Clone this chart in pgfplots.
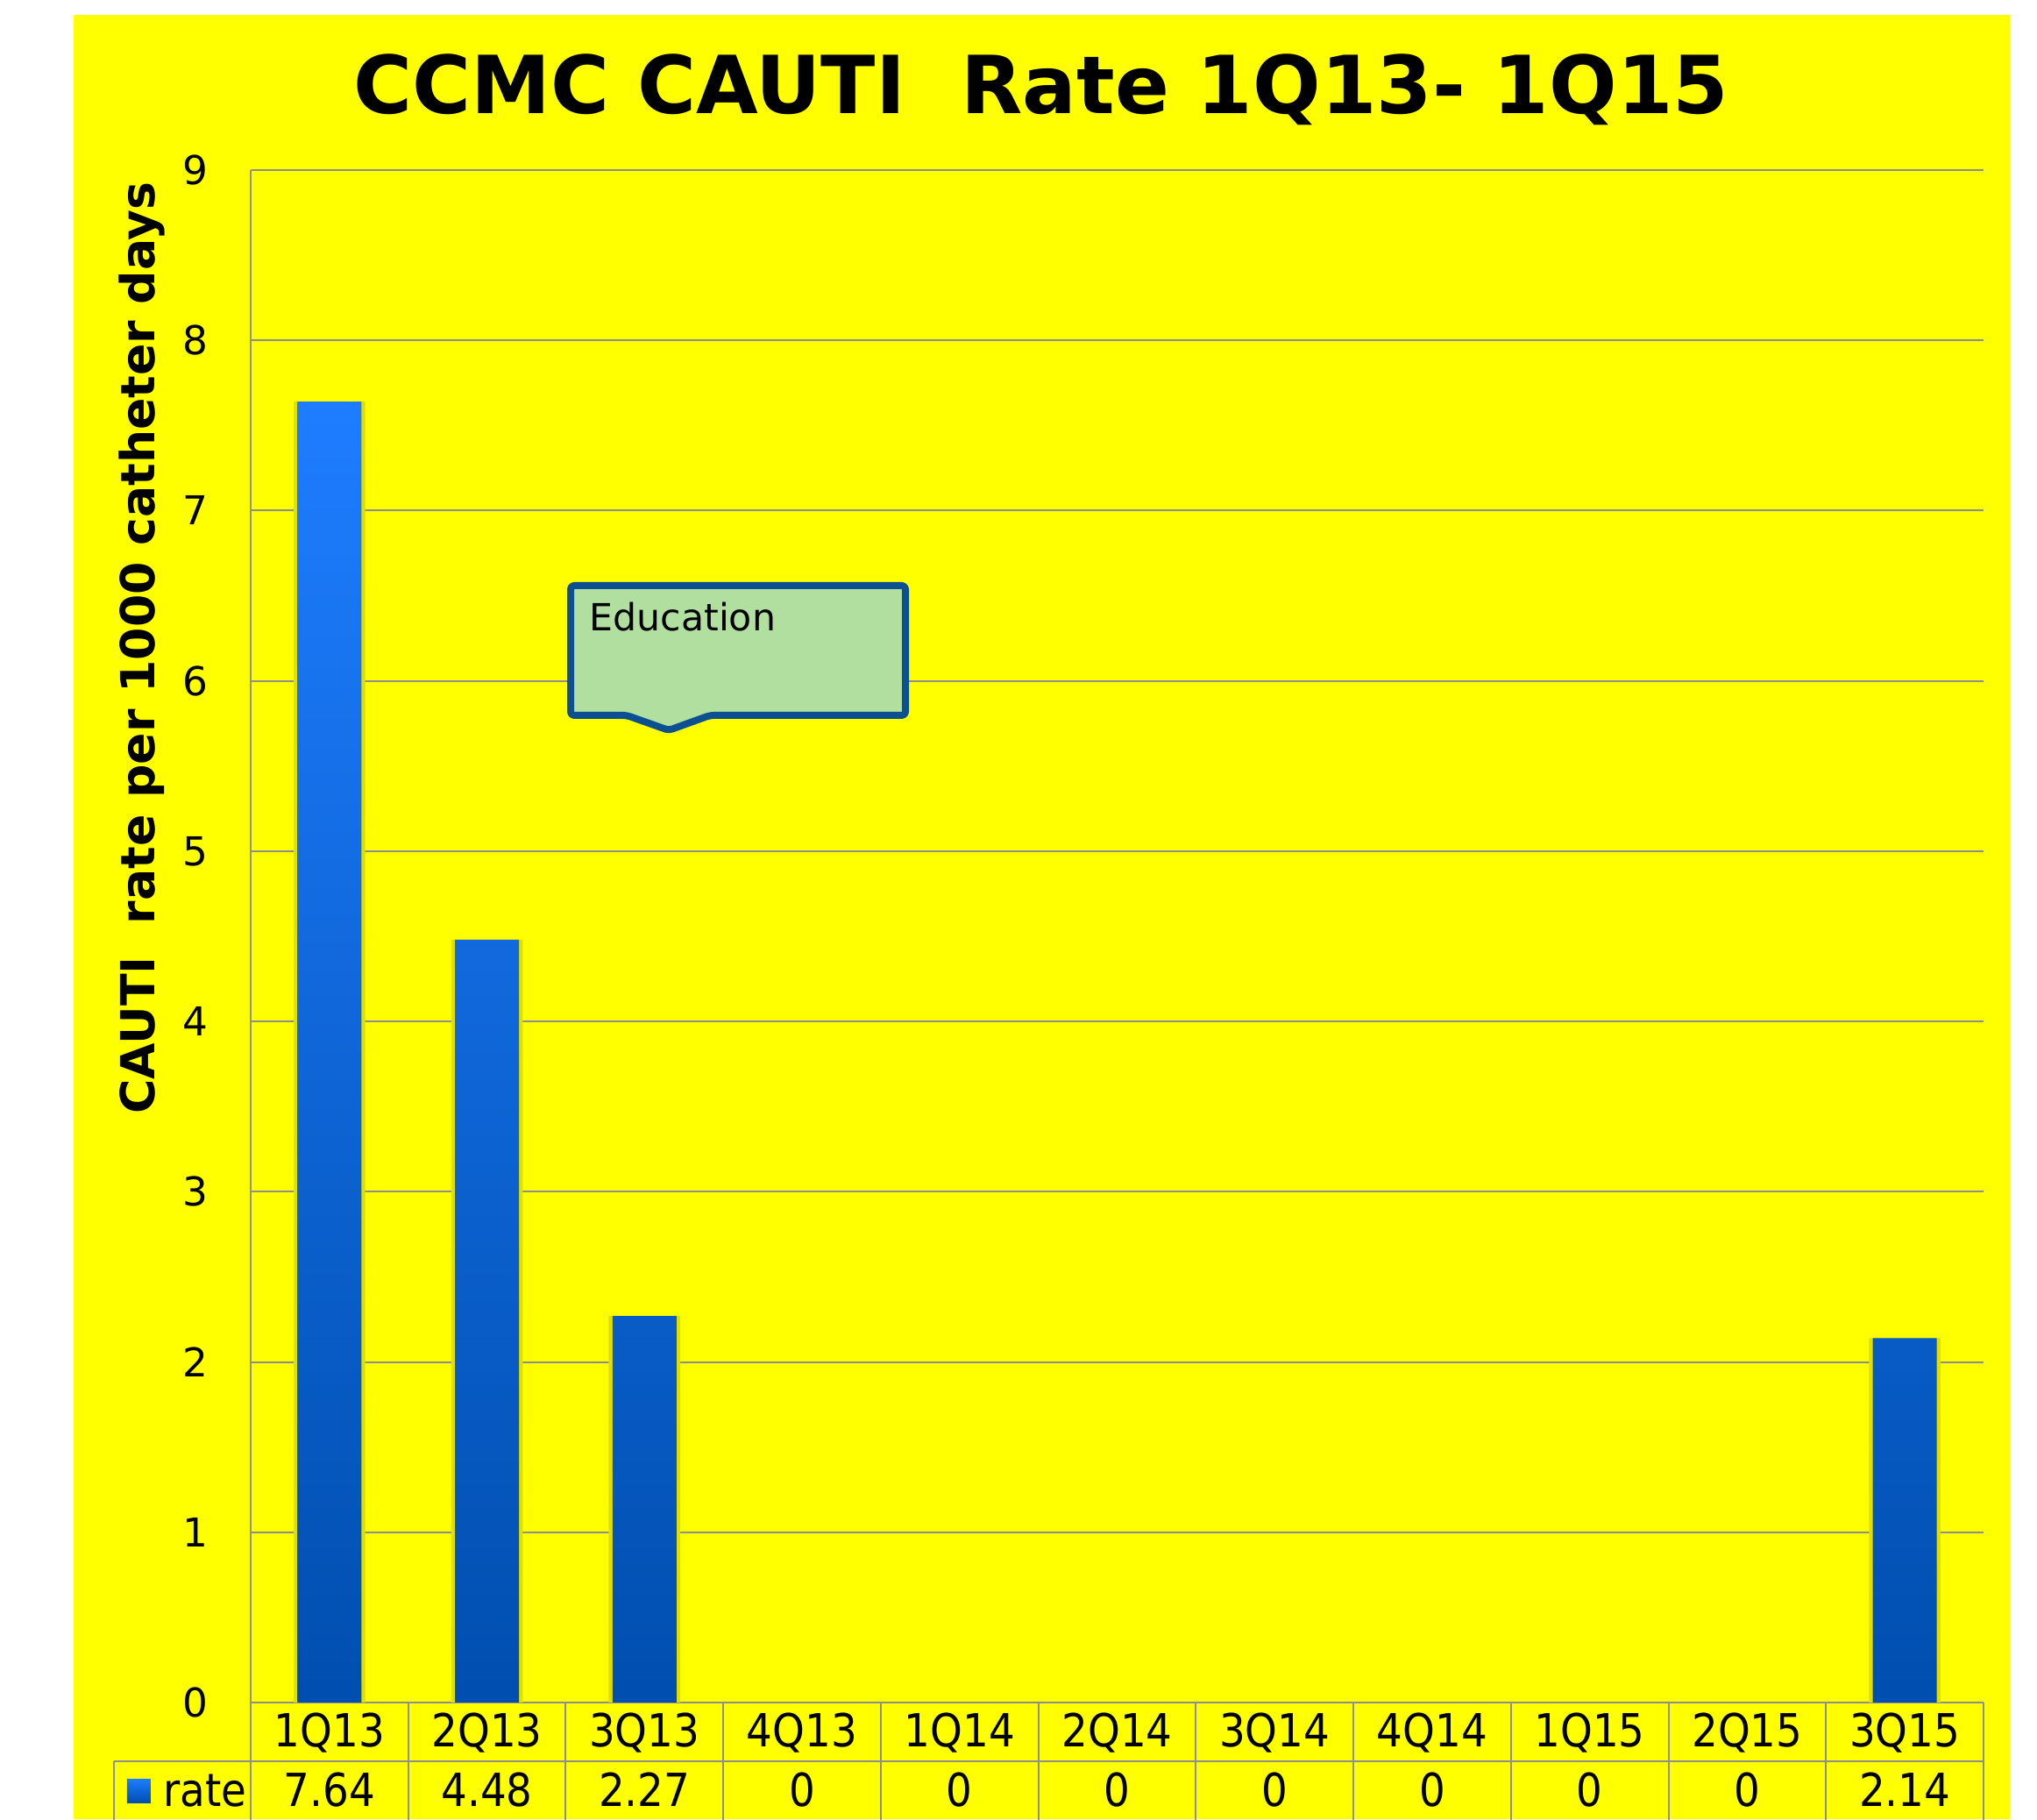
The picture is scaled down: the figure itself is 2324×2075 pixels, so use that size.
\documentclass[border=0pt]{standalone}
\usepackage{pgfplots}
\pgfplotsset{compat=1.18}
\usepackage{pgfplotstable}
\usepackage{fontspec}
\setmainfont{DejaVu Sans}
\newfontfamily\condfont[FakeStretch=0.9]{DejaVu Sans}
\definecolor{bgyellow}{RGB}{255,255,0}
\definecolor{gridgray}{RGB}{142,142,142}
\definecolor{barTop}{RGB}{30,125,255}
\definecolor{barMid}{RGB}{0,105,232}
\definecolor{barBot}{RGB}{0,78,175}
\definecolor{shadowc}{RGB}{222,222,0}
\definecolor{calBorder}{RGB}{12,80,145}
\definecolor{calFill}{RGB}{176,223,160}

\pgfplotstableread{
idx cat rate
0 1Q13 7.64
1 2Q13 4.48
2 3Q13 2.27
3 4Q13 0
4 1Q14 0
5 2Q14 0
6 3Q14 0
7 4Q14 0
8 1Q15 0
9 2Q15 0
10 3Q15 2.14
}\ratetable

\begin{document}
\begin{tikzpicture}
\begin{scope}[shift={(-85.8pt,582.6pt)}, x=0.3pt, y=-0.3pt]
  \fill[white] (0,0) rectangle (2324,2075);
  \fill[bgyellow] (84,17) rectangle (2293,2075);
\end{scope}
\begin{axis}[
  at={(0,0)}, anchor=south west,
  scale only axis, width=593.1pt, height=524.4pt,
  xmin=-0.5, xmax=10.5, ymin=0, ymax=9,
  axis x line*=bottom, axis y line*=left,
  axis line style={draw=gridgray, line width=0.6pt, -},
  ymajorgrids, grid style={draw=gridgray, line width=0.6pt},
  ytick={0,1,...,9}, xtick={0,1,...,10},
  xticklabels={1Q13,2Q13,3Q13,4Q13,1Q14,2Q14,3Q14,4Q14,1Q15,2Q15,3Q15},
  major tick length=0pt, tick style={draw=none},
  /pgf/number format/assume math mode=true,
  yticklabel style={font=\fontsize{13.6}{15}\selectfont, anchor=east, inner sep=0pt, xshift=-14.4pt},
  xticklabel style={font=\condfont\fontsize{15.6}{17}\selectfont, anchor=base, inner sep=0pt, yshift=-15.3pt},
  clip=false,
]
\addplot[ybar, bar width=24.5pt, draw=none, fill=shadowc, y filter/.expression={y==0 ? nan : y}]
  table[x=idx, y=rate] {\ratetable};
\addplot[ybar, bar width=21.9pt, draw=none, top color=barTop, middle color=barMid, bottom color=barBot, y filter/.expression={y==0 ? nan : y}]
  table[x=idx, y=rate] {\ratetable};
\end{axis}
\begin{scope}[shift={(-85.8pt,582.6pt)}, x=0.3pt, y=-0.3pt]
  % data table
  \draw[gridgray, line width=0.6pt] (130,2009) -- (2263,2009);
  \foreach \k in {0,...,11} {\draw[gridgray, line width=0.6pt] ({286+179.73*\k},1942) -- ({286+179.73*\k},2080);}
  \draw[gridgray, line width=0.6pt] (130,2009) -- (130,2080);
  \foreach \k/\v in {0/7.64,1/4.48,2/2.27,3/0,4/0,5/0,6/0,7/0,8/0,9/0,10/2.14} {
    \node[anchor=base, inner sep=0pt, font=\condfont\fontsize{15.6}{17}\selectfont] at ({286+179.73*(\k+0.5)},2060) {\v};
  }
  \shade[top color=barTop, middle color=barMid, bottom color=barBot] (145,2029) rectangle (172,2056);
  \node[anchor=base west, inner sep=0pt, font=\condfont\fontsize{15.6}{17}\selectfont] at (186,2060) {rate};
  % title
  \node[anchor=base, inner sep=0pt, font=\bfseries\fontsize{27.4}{30}\selectfont] at (1188,130) {CCMC CAUTI\ \ Rate 1Q13- 1Q15};
  % y label
  \node[rotate=90, anchor=base, inner sep=0pt, font=\bfseries\fontsize{16.1}{18}\selectfont] at (177,739) {CAUTI\ \ rate per 1000 catheter days};
  % callout
  \draw[line width=2.4pt, draw=calBorder, fill=calFill, rounded corners=1.2pt, line join=round]
    (651,668) -- (1033,668) -- (1033,816) -- (810,816) -- (763,833) -- (715,816) -- (651,816) -- cycle;
  \node[anchor=base west, inner sep=0pt, font=\fontsize{12.8}{14}\selectfont] at (672,720) {Education};
\end{scope}
\pgfresetboundingbox
\begin{scope}[shift={(-85.8pt,582.6pt)}, x=0.3pt, y=-0.3pt]
  \path[use as bounding box] (0,0) rectangle (2324,2075);
\end{scope}
\end{tikzpicture}
\end{document}
